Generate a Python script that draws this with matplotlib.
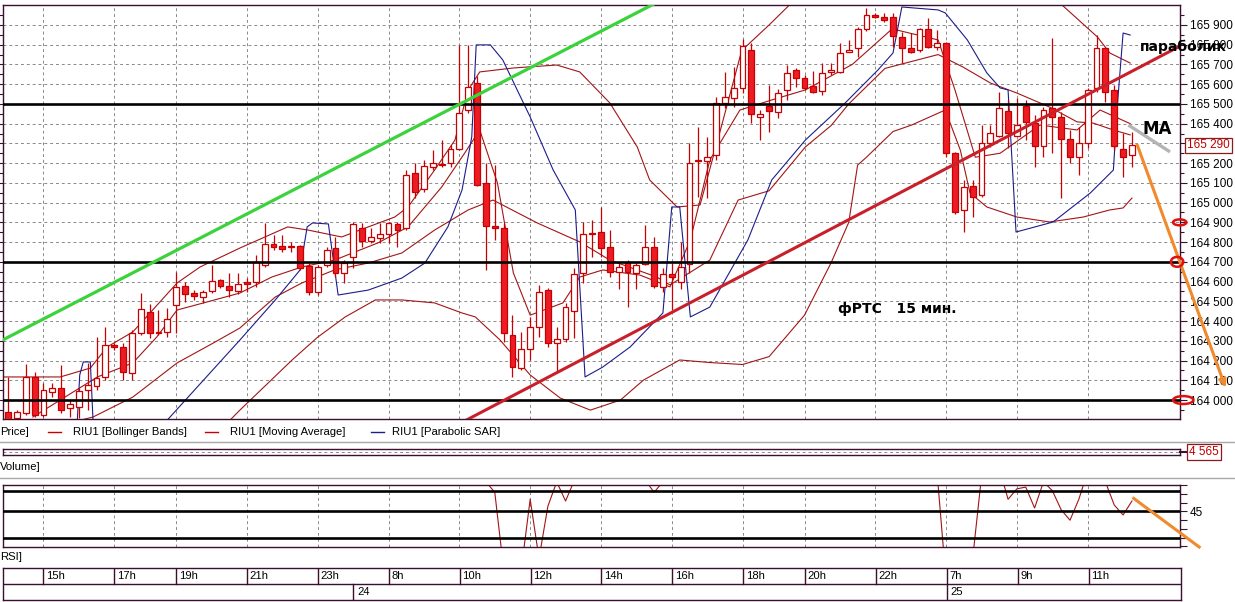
import matplotlib
matplotlib.use("Agg")
import matplotlib.pyplot as plt
from matplotlib.patches import Ellipse
from matplotlib.lines import Line2D

plt.rcParams["font.family"] = ["Liberation Sans", "DejaVu Sans"]

# ---------------- data: RIU1, 15 min candles ----------------
opens = [163940, 163910, 163935, 164115, 163925, 164040, 164060, 163960, 163965, 164050,
         164070, 164115, 164280, 164270, 164135, 164340, 164445, 164340, 164345, 164480,
         164580, 164540, 164520, 164550, 164610, 164580, 164550, 164600, 164600, 164685,
         164790, 164780, 164775, 164780, 164680, 164545, 164685, 164770, 164645, 164725,
         164870, 164805, 164820, 164840, 164890, 164870, 165150, 165070, 165180, 165190,
         165200, 165270, 165470, 165605, 165100, 164880, 164870, 164330, 164160, 164260,
         164370, 164555, 164290, 164310, 164450, 164645, 164840, 164850, 164775, 164650,
         164700, 164645, 164690, 164775, 164575, 164640, 164600, 164690, 165210, 165210,
         165240, 165505, 165530, 165580, 165775, 165435, 165490, 165460, 165570, 165670,
         165630, 165590, 165565, 165660, 165660, 165765, 165785, 165880, 165950, 165940,
         165940, 165840, 165785, 165775, 165880, 165790, 165810, 165250, 164965, 165085,
         165040, 165300, 165335, 165465, 165335, 165490, 165405, 165285, 165480, 165435,
         165320, 165230, 165300, 165580, 165785, 165570, 165270, 165240]
highs = [164115, 163950, 164185, 164140, 164085, 164085, 164180, 164000, 164060, 164190,
         164320, 164370, 164290, 164290, 164355, 164540, 164485, 164455, 164465, 164650,
         164600, 164555, 164555, 164685, 164615, 164645, 164645, 164620, 164735, 164895,
         164835, 164835, 164800, 164785, 164695, 164685, 164775, 164825, 164710, 164900,
         164895, 164870, 164895, 164900, 164900, 165165, 165200, 165215, 165265, 165315,
         165290, 165800, 165800, 165640, 165200, 165190, 164895, 164430, 164345, 164420,
         164585, 164570, 164370, 164490, 164670, 164900, 164910, 164980, 164860, 164700,
         164710, 164695, 164885, 164825, 164670, 164695, 164800, 165300, 165385, 165330,
         165535, 165660, 165685, 165830, 165810, 165470, 165595, 165575, 165695, 165680,
         165645, 165665, 165705, 165705, 165810, 165825, 165890, 165985, 165960, 165960,
         165960, 165865, 165860, 165885, 165935, 165875, 165815, 165255, 165115, 165115,
         165395, 165395, 165560, 165520, 165530, 165520, 165445, 165485, 165835, 165460,
         165370, 165385, 165580, 165850, 165790, 165595, 165355, 165360]
lows = [163880, 163900, 163925, 163915, 163915, 164015, 163935, 163915, 163910, 163950,
        164050, 164100, 164255, 164100, 164100, 164330, 164315, 164330, 164320, 164340,
        164495, 164505, 164490, 164540, 164570, 164520, 164535, 164545, 164575, 164675,
        164760, 164750, 164750, 164660, 164530, 164530, 164675, 164625, 164595, 164670,
        164775, 164795, 164795, 164795, 164775, 164860, 165025, 165055, 165165, 165180,
        165180, 165265, 165455, 165085, 164660, 164810, 164295, 164115, 164150, 164205,
        164320, 164270, 164140, 164295, 164315, 164595, 164725, 164725, 164625, 164560,
        164470, 164560, 164685, 164570, 164545, 164455, 164560, 164645, 165030, 165025,
        165215, 165480, 165485, 165555, 165405, 165315, 165360, 165430, 165520, 165585,
        165570, 165555, 165545, 165645, 165655, 165765, 165740, 165870, 165935, 165915,
        165790, 165705, 165760, 165765, 165785, 165775, 165230, 164940, 164850, 164925,
        165030, 165280, 165330, 165275, 165335, 165315, 165180, 165230, 165250, 165025,
        165200, 165140, 165275, 165560, 165510, 165265, 165130, 165180]
closes = [163900, 163940, 164115, 163925, 164050, 164060, 163950, 163980, 164045, 164075,
          164110, 164280, 164270, 164140, 164340, 164460, 164340, 164345, 164410, 164575,
          164535, 164525, 164545, 164605, 164580, 164555, 164590, 164590, 164700, 164790,
          164775, 164765, 164775, 164670, 164545, 164675, 164760, 164645, 164695, 164890,
          164805, 164825, 164840, 164895, 164860, 165140, 165055, 165185, 165200, 165195,
          165270, 165455, 165585, 165090, 164880, 164870, 164340, 164165, 164260, 164370,
          164545, 164290, 164310, 164470, 164640, 164840, 164845, 164770, 164650, 164675,
          164650, 164685, 164775, 164580, 164640, 164625, 164675, 165200, 165215, 165230,
          165505, 165535, 165580, 165795, 165450, 165450, 165465, 165555, 165655, 165630,
          165580, 165560, 165655, 165670, 165760, 165775, 165880, 165950, 165940, 165925,
          165845, 165785, 165765, 165880, 165790, 165810, 165250, 164955, 165080, 165030,
          165300, 165355, 165480, 165355, 165395, 165410, 165285, 165470, 165435, 165320,
          165230, 165300, 165570, 165785, 165560, 165285, 165230, 165290]

# indicator lines: (bar position, price)
bb_up_x = [-0.9, 5.9, 9.3, 11.2, 14.1, 19.1, 21.7, 26.2, 31.6, 33.9, 37.7, 40.7, 43.7, 45.2,
           48.2, 50.5, 52.0, 53.3, 57.1, 62.0, 64.6, 68.0, 71.1, 72.5, 75.6, 78.2, 80.5, 82.9,
           86.0, 88.5, 92.9, 106.4, 115.5, 119.1, 123.1, 124.5, 126.8]
bb_up_p = [164117, 164117, 164162, 164269, 164345, 164593, 164674, 164770, 164877, 164861,
           164826, 164877, 164927, 164978, 165165, 165317, 165571, 165662, 165682, 165697,
           165662, 165505, 165282, 165115, 164978, 164988, 165368, 165770, 165900, 166010,
           166179, 166331, 166153, 166001, 165839, 165758, 165707]
bb_mid_x = [-0.9, 9.6, 14.1, 19.1, 23.2, 26.2, 30.2, 33.2, 36.9, 40.7, 44.5, 48.2, 52.0, 54.8,
            59.8, 64.6, 68.0, 73.3, 74.8, 79.3, 82.5, 86.0, 90.1, 93.0, 95.0, 99.1, 105.1,
            107.9, 111.0, 114.0, 117.7, 120.8, 122.6, 124.9, 126.8]
bb_mid_p = [163798, 163914, 164015, 164188, 164289, 164365, 164522, 164593, 164659, 164694,
            164745, 164861, 164963, 165013, 164897, 164801, 164709, 164623, 164583, 164709,
            165013, 165060, 165282, 165390, 165500, 165680, 165750, 165687, 165606, 165555,
            165484, 165409, 165403, 165368, 165343]
bb_lo_x = [25.1, 26.2, 32.1, 35.0, 38.1, 41.5, 44.5, 48.2, 51.3, 52.8, 55.6, 59.0, 62.4, 65.8,
           69.2, 71.8, 75.9, 79.3, 83.0, 86.0, 90.0, 93.0, 95.0, 96.0, 97.0, 100.0, 102.1,
           105.9, 107.6, 108.7, 110.6, 114.0, 117.7, 121.5, 124.5, 126.0, 127.0]
bb_lo_p = [163899, 163949, 164203, 164319, 164421, 164507, 164507, 164492, 164441, 164421,
           164304, 164127, 164010, 163949, 164000, 164101, 164203, 164190, 164180, 164220,
           164430, 164695, 164900, 165190, 165230, 165360, 165393, 165469, 165267, 165049,
           164978, 164927, 164902, 164927, 164963, 164973, 165023]
ma_x = [2.8, 10.1, 14.1, 16.8, 19.1, 22.5, 26.2, 29.8, 33.2, 36.9, 41.8, 45.2, 49.0, 51.6,
        53.3, 55.3, 57.1, 59.0, 62.7, 64.6, 67.2, 71.4, 74.8, 77.1, 79.3, 82.7, 86.3, 90.1,
        95.4, 99.9, 105.1, 107.0, 109.3, 112.1, 116.6, 120.8, 123.4, 126.8]
ma_p = [163914, 164117, 164188, 164319, 164456, 164497, 164542, 164623, 164674, 164709,
        164796, 164877, 165079, 165251, 165368, 165100, 164644, 164430, 164492, 164623,
        164659, 164633, 164573, 164811, 165216, 165469, 165520, 165571, 165700, 165880,
        165824, 165571, 165230, 165250, 165393, 165368, 165469, 165400]
sar_x = [7.8, 8.1, 8.5, 9.3, 9.6, 18.0, 26.2, 30.2, 33.0, 33.8, 34.4, 36.2, 37.3, 40.7, 44.5,
         47.1, 49.7, 51.3, 52.4, 52.9, 54.5, 55.9, 59.0, 61.6, 64.1, 65.2, 67.2, 70.3, 74.0,
         75.0, 75.9, 77.1, 79.3, 83.6, 86.3, 90.1, 94.6, 98.3, 100.0, 101.0, 105.1, 105.9,
         108.4, 110.6, 112.1, 113.0, 113.9, 118.1, 122.3, 124.9, 125.4, 126.0, 126.8]
sar_p = [163873, 164127, 164193, 164193, 163899, 163899, 164304, 164507, 164659, 164877,
         164897, 164892, 164532, 164557, 164618, 164694, 164877, 165064, 165333, 165799,
         165799, 165723, 165434, 165165, 164963, 164117, 164167, 164269, 164441, 164978,
         164978, 164421, 164471, 164811, 165115, 165317, 165505, 165672, 165758, 165991,
         165976, 165961, 165824, 165657, 165581, 165571, 164851, 164902, 165049, 165165,
         165520, 165859, 165849]

# RSI per bar (values above the panel top are off-scale, as in the source)
rsi = ([65] * 54
       + [62, 56, 12, 8, 12, 52, 18, 48, 62, 51, 63]
       + [65, 65, 65, 65, 65, 65, 65, 63]
       + [56, 62]
       + [66] * 31
       + [5, 3, 20, 18, 65, 66, 70, 52, 58, 59, 47, 62, 57, 46, 40, 52,
          68, 75, 62, 48.7, 43, 51])

time_ticks = [4, 12, 19, 27, 35, 43, 51, 59, 67, 75, 83, 90, 98, 106, 114, 122]
time_labels = ["15h", "17h", "19h", "21h", "23h", "8h", "10h", "12h", "14h",
               "16h", "18h", "20h", "22h", "7h", "9h", "11h"]
day_starts = [39, 106]
day_labels = ["24", "25"]
levels = [165500, 164700, 164000]
marked_levels = [164900, 164700, 164000]
last_price = 165290
last_volume = "4 565"
rsi_levels = [56.8, 45, 30]

# ---------------- layout ----------------
W, H = 1235, 602
XLIM = (-0.57, 132.43)
BORDER = "#3c0f2e"
RED = "#c80000"
FILL = "#ec1c24"
IND = "#a31515"
NAVY = "#1c1c8c"
GRID = "#8a8a8a"
ORANGE = "#f08a2c"
FS = 8.1


def rect(x0, y0, x1, y1):
    return [x0 / W, 1 - y1 / H, (x1 - x0) / W, (y1 - y0) / H]


def style_frame(a):
    for s in a.spines.values():
        s.set_color(BORDER)
        s.set_linewidth(1.0)


def price_fmt(v):
    return f"{v // 1000} {v % 1000:03d}"


fig = plt.figure(figsize=(W / 100, H / 100), dpi=100)
fig.patch.set_facecolor("white")

# ---- main price panel ----
ax = fig.add_axes(rect(3, 5, 1180, 419))
ax.set_xlim(XLIM)
ax.set_ylim(163904, 166001)
style_frame(ax)

for p in range(164000, 166000, 100):
    ax.axhline(p, color=GRID, lw=0.7, ls=(0, (3, 3)), zorder=0)
for t in time_ticks:
    ax.axvline(t, color=GRID, lw=0.7, ls=(0, (3, 3)), zorder=0)

xs = list(range(len(opens)))
ax.vlines(xs, lows, highs, color=RED, lw=0.9, zorder=3)
bottoms = [min(o, c) for o, c in zip(opens, closes)]
heights = [max(abs(c - o), 4) for o, c in zip(opens, closes)]
fills = [FILL if c < o else "white" for o, c in zip(opens, closes)]
ax.bar(xs, heights, bottom=bottoms, width=0.66, color=fills, edgecolor=RED,
       linewidth=0.9, zorder=4)

for lx, lp in ((bb_up_x, bb_up_p), (bb_mid_x, bb_mid_p), (bb_lo_x, bb_lo_p), (ma_x, ma_p)):
    ax.plot(lx, lp, color=IND, lw=0.8, zorder=2)
ax.plot(sar_x, sar_p, color=NAVY, lw=0.8, zorder=2)

for lv in levels:
    ax.axhline(lv, color="black", lw=1.9, zorder=5)

# hand-drawn trend lines and marks
ax.plot([-1, 74], [164295, 166030], color="#3cd23c", lw=2.3, zorder=6)
ax.plot([51, 132.3], [163880, 165790], color="#c8202a", lw=2.2, zorder=6)
ax.plot([126.6, 131.3], [165393, 165257], color="#b4b4b4", lw=2.4, zorder=6,
        solid_capstyle="butt")
ax.annotate("", xy=(137.6, 164061), xytext=(127.6, 165292),
            arrowprops=dict(arrowstyle="->,head_length=0.45,head_width=0.2",
                            color=ORANGE, lw=2.2, shrinkA=0, shrinkB=0),
            annotation_clip=False, zorder=7)
for lv, xc, w, h in zip(marked_levels, [132.4, 132.1, 132.8], [1.5, 1.4, 2.3], [30, 50, 40]):
    ax.add_patch(Ellipse((xc, lv), w, h, fill=False, ec="#e01010", lw=1.8,
                         clip_on=False, zorder=8))

ax.set_xticks([])
ax.yaxis.tick_right()
ticks = list(range(164000, 166000, 100))
ax.set_yticks(ticks)
ax.set_yticklabels(["" if t == 165300 else price_fmt(t) for t in ticks])
ax.set_yticks(list(range(163950, 166000, 100)), minor=True)
ax.tick_params(axis="y", which="major", right=True, left=True, length=5, width=0.8,
               color=BORDER, labelsize=FS + 0.4, pad=2)
ax.tick_params(axis="y", which="minor", right=True, left=True, length=3, width=0.8,
               color=BORDER)
ax.text(1.006, last_price, price_fmt(last_price), transform=ax.get_yaxis_transform(),
        va="center", ha="left", fontsize=FS + 0.4, color="#c00000",
        bbox=dict(boxstyle="square,pad=0.15", fc="white", ec="#8b1a1a", lw=0.9))

ax.text(127.9, 165790, "параболик", fontsize=10, fontweight="bold",
        family="DejaVu Sans", va="center", ha="left", zorder=9, clip_on=False)
ax.text(128.2, 165375, "MA", fontsize=12, fontweight="bold", family="DejaVu Sans",
        va="center", ha="left", zorder=9, clip_on=False)
ax.text(93.8, 164460, "фРТС   15 мин.", fontsize=10, fontweight="bold",
        family="DejaVu Sans", va="center", ha="left", zorder=9)

# ---- legend row ----
ly = 1 - 432 / H
fig.text(0, ly, "Price]", fontsize=FS, va="center", ha="left")
for (x0, x1), col, lab, tx in zip([(48, 61), (205, 218), (371, 384)], [RED, RED, NAVY],
                                  ["RIU1 [Bollinger Bands]", "RIU1 [Moving Average]",
                                   "RIU1 [Parabolic SAR]"], [73, 230, 392]):
    fig.add_artist(Line2D([x0 / W, x1 / W], [ly, ly], color=col, lw=1.0))
    fig.text(tx / W, ly, lab, fontsize=FS, va="center", ha="left")
for yy in (442, 478):
    fig.add_artist(Line2D([0, 1], [1 - yy / H, 1 - yy / H], color="#a8a8a8", lw=1.0))

# ---- volume panel ----
axv = fig.add_axes(rect(3, 449, 1180, 455))
axv.set_xlim(XLIM)
axv.set_ylim(0, 1)
style_frame(axv)
axv.axhline(0.5, color=GRID, lw=0.7, ls=(0, (3, 3)))
axv.set_xticks([])
axv.set_yticks([])
fig.text(1189 / W, 1 - 452 / H, last_volume, fontsize=FS + 0.4, color="#c00000",
         va="center", ha="left",
         bbox=dict(boxstyle="square,pad=0.15", fc="white", ec="#8b1a1a", lw=0.9))
fig.add_artist(Line2D([1180 / W, 1187 / W], [1 - 452 / H] * 2, color=BORDER, lw=1.5))
fig.text(0, 1 - 467 / H, "Volume]", fontsize=FS, va="center", ha="left")

# ---- RSI panel ----
axr = fig.add_axes(rect(3, 485, 1180, 547))
axr.set_xlim(XLIM)
axr.set_ylim(24.6, 60.2)
style_frame(axr)
for t in time_ticks:
    axr.axvline(t, color=GRID, lw=0.7, ls=(0, (3, 3)), zorder=0)
axr.axhline(45, color=GRID, lw=0.7, ls=(0, (3, 3)), zorder=0)
axr.plot(xs, rsi, color=IND, lw=0.8, zorder=2)
for lv in rsi_levels:
    axr.axhline(lv, color="black", lw=1.9, zorder=3)
axr.plot([127.2, 134.6], [52.5, 24.6], color=ORANGE, lw=2.2, clip_on=False, zorder=4)
axr.set_xticks([])
axr.yaxis.tick_right()
axr.set_yticks(list(range(25, 61, 5)))
axr.set_yticklabels(["45" if v == 45 else "" for v in range(25, 61, 5)])
axr.tick_params(axis="y", length=5, width=0.8, color=BORDER, labelsize=FS + 0.4, pad=2)
fig.text(0, 1 - 557 / H, "RSI]", fontsize=FS, va="center", ha="left")

# ---- time axis ----
axt = fig.add_axes(rect(3, 568, 1181, 600))
axt.set_xlim(XLIM)
axt.set_ylim(0, 2)
style_frame(axt)
axt.axhline(1, color=BORDER, lw=1.0)
for t, lab in zip(time_ticks, time_labels):
    axt.plot([t, t], [1, 2], color=BORDER, lw=1.0)
    axt.text(t + 0.3, 1.5, lab, fontsize=FS, va="center", ha="left")
for d, lab in zip(day_starts, day_labels):
    axt.plot([d, d], [0, 1], color=BORDER, lw=1.0)
    axt.text(d + 0.4, 0.5, lab, fontsize=FS, va="center", ha="left")
axt.set_xticks([])
axt.set_yticks([])

fig.savefig("out.png", dpi=100, facecolor="white")
